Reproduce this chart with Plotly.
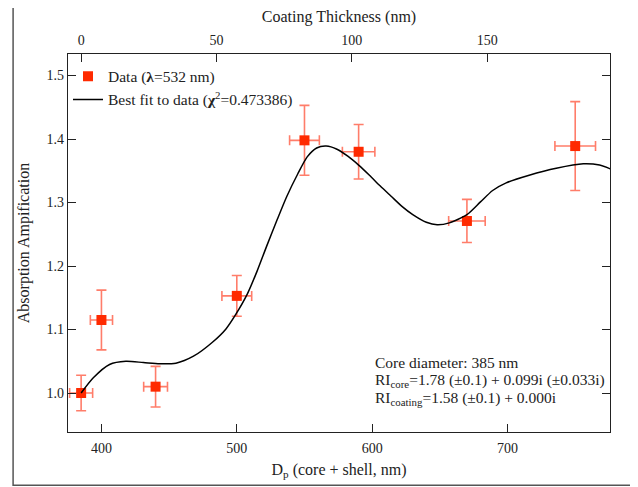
import plotly.graph_objects as go

# ---- data ----
dp = [385, 400, 440, 500, 550, 590, 670, 750]
amp = [1.000, 1.115, 1.010, 1.153, 1.398, 1.380, 1.271, 1.389]
amp_err = [0.028, 0.047, 0.032, 0.032, 0.055, 0.043, 0.034, 0.070]
dp_err = [8.5, 8.2, 8.8, 11.0, 11.0, 12.0, 13.5, 15.0]

fit_dp = [385, 394, 406, 418, 431, 443, 455, 468, 482, 492, 499, 508, 515, 522,
          530, 537, 545, 552, 559, 566, 574, 582, 590, 598, 606, 614, 622, 630,
          640, 648, 657, 670, 680, 689, 699, 716, 736, 756, 768, 776]
fit_y = [1.000, 1.024, 1.045, 1.050, 1.048, 1.046, 1.047, 1.058, 1.080, 1.101,
         1.123, 1.157, 1.192, 1.231, 1.274, 1.310, 1.345, 1.372, 1.386, 1.389,
         1.384, 1.373, 1.359, 1.343, 1.326, 1.310, 1.294, 1.281, 1.269, 1.265,
         1.268, 1.281, 1.301, 1.319, 1.331, 1.343, 1.354, 1.361, 1.359, 1.353]

core_diameter = 385
x_range = [375.3, 775.7]
y_range = [0.9386, 1.534]
x_ticks = [400, 500, 600, 700]
y_ticks = [1.0, 1.1, 1.2, 1.3, 1.4, 1.5]
top_ticks = [0, 50, 100, 150]

FONT = "Liberation Serif"
RED = "#ff2a00"
ERR = "rgba(255,45,15,0.62)"
INK = "#222"

fig = go.Figure()
fig.add_trace(go.Scatter(
    x=dp, y=amp, mode="markers",
    name="Data (<b>λ</b>=532 nm)",
    marker=dict(symbol="square", size=10, color=RED),
    error_y=dict(type="data", array=amp_err, color=ERR, thickness=1.6, width=5),
    error_x=dict(type="data", array=dp_err, color=ERR, thickness=1.6, width=5),
))
fig.add_trace(go.Scatter(
    x=fit_dp, y=fit_y, mode="lines",
    name="Best fit to data (<b>χ</b><sup>2</sup>=0.473386)",
    line=dict(color="black", width=1.5, shape="spline", smoothing=0.7),
))
# invisible trace on the top (coating thickness) axis
fig.add_trace(go.Scatter(
    x=[(d - core_diameter) / 2 for d in dp], y=amp, xaxis="x2",
    mode="markers", marker=dict(opacity=0), showlegend=False, hoverinfo="skip",
))

tick_font = dict(family=FONT, size=14, color=INK)
title_font = dict(family=FONT, size=16, color=INK)
top_range = [(x_range[0] - core_diameter) / 2, (x_range[1] - core_diameter) / 2]

# page body has an 8px margin, so the figure is sized to fit the window
fig.update_layout(
    width=630, height=479,
    margin=dict(l=59.5, r=27.5, t=46.3, b=54.7, autoexpand=False),
    paper_bgcolor="white", plot_bgcolor="white",
    font=tick_font,
    showlegend=True,
    legend=dict(x=0.0, y=0.985, xanchor="left", yanchor="top",
                bgcolor="rgba(0,0,0,0)", font=dict(family=FONT, size=15.5, color=INK),
                itemwidth=30, tracegroupgap=0),
    xaxis=dict(range=x_range, tickvals=x_ticks, ticks="inside", ticklen=8,
               tickcolor=INK, showline=True, linecolor=INK, linewidth=1.3,
               mirror=True, showgrid=False, zeroline=False, automargin=False,
               ticklabelstandoff=3,
               title=dict(text="D<sub>p</sub> (core + shell, nm)", standoff=8,
                          font=title_font),
               tickfont=tick_font),
    xaxis2=dict(range=top_range, tickvals=top_ticks, overlaying="x", side="top",
                ticks="inside", ticklen=8, tickcolor=INK, showline=False,
                showgrid=False, zeroline=False, automargin=False,
                ticklabelstandoff=5,
                title=dict(text="Coating Thickness (nm)", standoff=10, font=title_font),
                tickfont=tick_font),
    yaxis=dict(range=y_range, tickvals=y_ticks, tickformat=".1f", ticks="inside",
               ticklen=8, tickcolor=INK, showline=True, linecolor=INK,
               linewidth=1.3, mirror="ticks", showgrid=False, zeroline=False,
               automargin=False,
               title=dict(text="Absorption Ampification", standoff=12, font=title_font),
               tickfont=tick_font),
)

# outer frame of the figure
fig.add_shape(type="rect", xref="paper", yref="paper",
              x0=-0.1013, x1=1.06, y0=-0.1407, y1=1.129,
              line=dict(color="#555", width=1.5), layer="below")

notes = [
    ("Core diameter: 385 nm", 0.1833),
    ("RI<sub>core</sub>=1.78 (±0.1) + 0.099i (±0.033i)", 0.136),
    ("RI<sub>coating</sub>=1.58 (±0.1) + 0.000i", 0.088),
]
for txt, yy in notes:
    fig.add_annotation(text=txt, xref="paper", yref="paper", x=0.5626, y=yy,
                       xanchor="left", yanchor="middle", showarrow=False,
                       font=dict(family=FONT, size=15.5, color=INK))

fig.write_html("out.html")
